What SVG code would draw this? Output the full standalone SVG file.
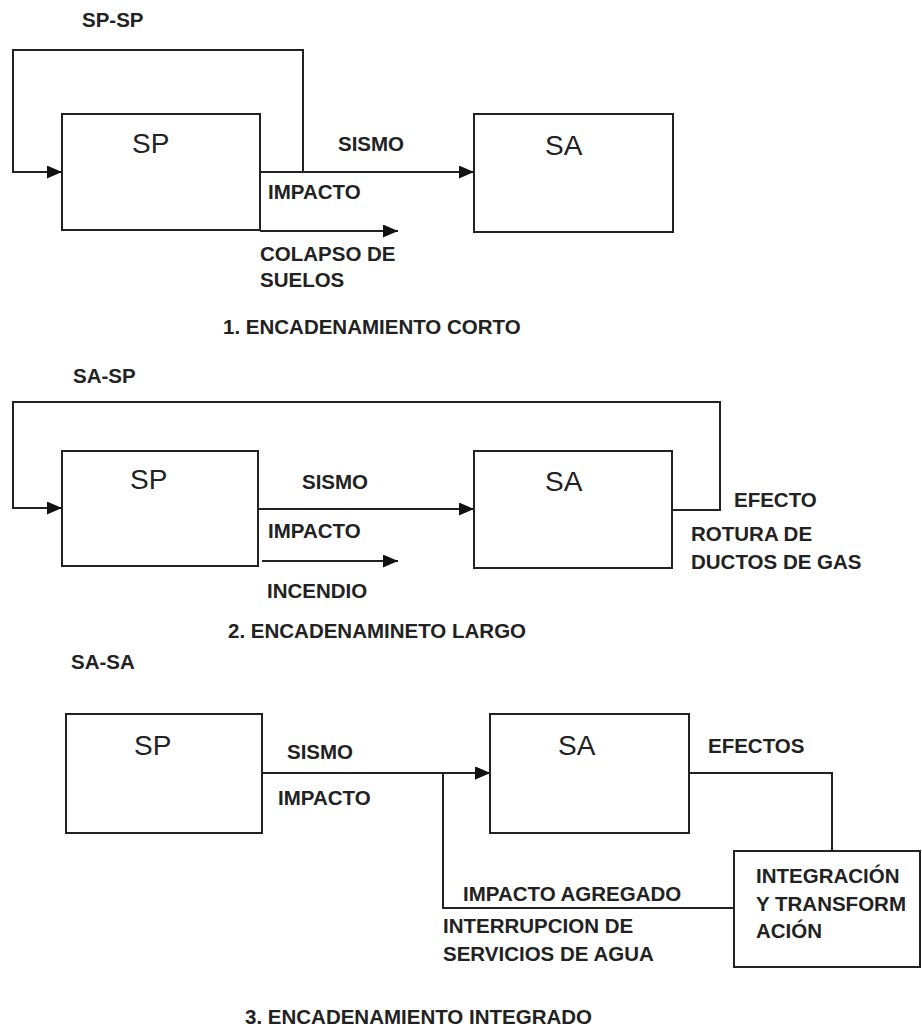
<svg xmlns="http://www.w3.org/2000/svg" width="922" height="1031" viewBox="0 0 922 1031">
<defs>
<style>
.box{fill:#fff;stroke:#222;stroke-width:2}
.ln{fill:none;stroke:#222;stroke-width:2}
.big{font-family:"Liberation Sans",Arial,sans-serif;font-size:28px;fill:#222}
.lb{font-family:"Liberation Sans",Arial,sans-serif;font-size:20.5px;font-weight:bold;fill:#222}
</style>
<marker id="ah" markerUnits="userSpaceOnUse" markerWidth="16" markerHeight="14" refX="15" refY="6.5" orient="auto">
<path d="M0,0 L15,6.5 L0,13 z" fill="#111"/>
</marker>
</defs>
<rect width="922" height="1031" fill="#fff"/>

<g id="connectors">
<path class="ln" d="M260,172 H474" marker-end="url(#ah)"/>
<path class="ln" d="M303,172 V50 H13 V172 H62" marker-end="url(#ah)"/>
<path class="ln" d="M260,231 H398" marker-end="url(#ah)"/>

<path class="ln" d="M258,509 H474" marker-end="url(#ah)"/>
<path class="ln" d="M673,510 H720 V402 H13 V508 H62" marker-end="url(#ah)"/>
<path class="ln" d="M262,561 H398" marker-end="url(#ah)"/>

<path class="ln" d="M262,773 H490" marker-end="url(#ah)"/>
<path class="ln" d="M689,773 H832 V851"/>
<path class="ln" d="M734,908 H443 V773 H490" marker-end="url(#ah)"/>
</g>

<g id="sec1">
<text class="lb" x="82" y="27">SP-SP</text>
<g id="sp1"><rect class="box" x="62" y="114" width="198" height="116"/><text class="big" x="132" y="153">SP</text></g>
<g id="sa1"><rect class="box" x="474" y="114" width="199" height="118"/><text class="big" x="545" y="155">SA</text></g>
<text class="lb" x="338" y="151">SISMO</text>
<text class="lb" x="268" y="199">IMPACTO</text>
<text class="lb" x="260" y="261">COLAPSO DE</text>
<text class="lb" x="260" y="287">SUELOS</text>
<text class="lb" x="223" y="334">1. ENCADENAMIENTO CORTO</text>
</g>

<g id="sec2">
<text class="lb" x="73" y="383">SA-SP</text>
<g id="sp2"><rect class="box" x="62" y="451" width="196" height="115"/><text class="big" x="130" y="489">SP</text></g>
<g id="sa2"><rect class="box" x="474" y="451" width="198" height="117"/><text class="big" x="545" y="491">SA</text></g>
<text class="lb" x="302" y="489">SISMO</text>
<text class="lb" x="268" y="538">IMPACTO</text>
<text class="lb" x="267" y="598">INCENDIO</text>
<text class="lb" x="734" y="507">EFECTO</text>
<text class="lb" x="691" y="541">ROTURA DE</text>
<text class="lb" x="691" y="569">DUCTOS DE GAS</text>
<text class="lb" x="228" y="638">2. ENCADENAMINETO LARGO</text>
</g>

<g id="sec3">
<text class="lb" x="71" y="669">SA-SA</text>
<g id="sp3"><rect class="box" x="66" y="714" width="196" height="119"/><text class="big" x="134" y="755">SP</text></g>
<g id="sa3"><rect class="box" x="490" y="714" width="199" height="119"/><text class="big" x="558" y="755">SA</text></g>
<g id="integ"><rect class="box" x="734" y="851" width="186" height="116"/>
<text class="lb" x="756" y="883">INTEGRACIÓN</text>
<text class="lb" x="756" y="911">Y TRANSFORM</text>
<text class="lb" x="756" y="938">ACIÓN</text></g>
<text class="lb" x="287" y="759">SISMO</text>
<text class="lb" x="278" y="805">IMPACTO</text>
<text class="lb" x="708" y="753">EFECTOS</text>
<text class="lb" x="463" y="901">IMPACTO AGREGADO</text>
<text class="lb" x="443" y="933">INTERRUPCION DE</text>
<text class="lb" x="443" y="961">SERVICIOS DE AGUA</text>
<text class="lb" x="245" y="1024">3. ENCADENAMIENTO INTEGRADO</text>
</g>
</svg>
